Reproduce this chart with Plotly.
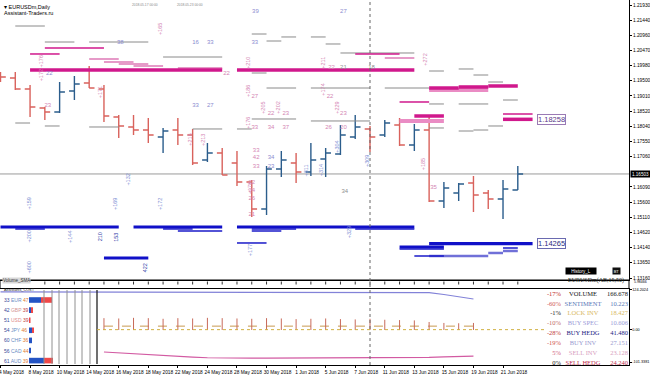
import plotly.graph_objects as go

# ---------------- data ----------------
days = list(range(36))  # trading days 4 May 2018 .. 22 Jun 2018
tick_days = [0, 2, 4, 6, 8, 10, 12, 14, 16, 18, 20, 22, 24, 26, 28, 30, 32, 34]
tick_dates = ["4 May 2018", "8 May 2018", "10 May 2018", "14 May 2018", "16 May 2018",
              "18 May 2018", "22 May 2018", "24 May 2018", "28 May 2018", "30 May 2018",
              "1 Jun 2018", "5 Jun 2018", "7 Jun 2018", "11 Jun 2018", "13 Jun 2018",
              "15 Jun 2018", "19 Jun 2018", "21 Jun 2018"]

bar_open = [1.19714, 1.19586, 1.19232, 1.18622, 1.18494, 1.19168, 1.19425, 1.19232, 1.18333, 1.18012,
            1.17915, 1.17691, 1.17915, 1.17755, 1.16952, 1.17177, 1.16855, 1.16245, 1.15378, 1.16663,
            1.16855, 1.16566, 1.16984, 1.17145, 1.17691, 1.17948, 1.17755, 1.18076, 1.17434, 1.17915,
            1.15635, 1.15892, 1.16213, 1.15892, 1.15699, 1.15988]
bar_high = [1.19778, 1.19778, 1.19361, 1.18654, 1.19457, 1.19650, 1.19971, 1.19361, 1.18397, 1.18397,
            1.18301, 1.17980, 1.18301, 1.17948, 1.17498, 1.17337, 1.17241, 1.16309, 1.16759, 1.17241,
            1.17177, 1.17498, 1.17337, 1.18076, 1.18397, 1.18044, 1.18237, 1.18301, 1.18108, 1.18397,
            1.16245, 1.16213, 1.16438, 1.15988, 1.16309, 1.16759]
bar_low = [1.19457, 1.19200, 1.18333, 1.18237, 1.18461, 1.18879, 1.19264, 1.18172, 1.17658, 1.17755,
           1.17498, 1.17177, 1.17434, 1.16791, 1.16887, 1.16470, 1.16117, 1.15121, 1.15185, 1.16406,
           1.16213, 1.16438, 1.16406, 1.17112, 1.17626, 1.17209, 1.17691, 1.17402, 1.17241, 1.15603,
           1.15410, 1.15635, 1.15282, 1.15378, 1.15057, 1.15988]
bar_close = [1.19618, 1.19232, 1.18654, 1.18494, 1.19136, 1.19393, 1.19264, 1.18365, 1.18044, 1.17915,
             1.17755, 1.17883, 1.17755, 1.16855, 1.17177, 1.16470, 1.16245, 1.15378, 1.16663, 1.16952,
             1.16566, 1.16952, 1.17177, 1.17755, 1.18012, 1.17691, 1.18140, 1.17434, 1.17915, 1.15635,
             1.16053, 1.16181, 1.15828, 1.15699, 1.16020, 1.16503]
current_price = 1.16503

price_ticks = [1.21930, 1.21440, 1.20960, 1.20470, 1.19980, 1.19500, 1.19010, 1.18520, 1.18040,
               1.17550, 1.17060, 1.16090, 1.15600, 1.15110, 1.14620, 1.14140, 1.13650, 1.13160]

# level segments: start day, end day, price
gray_start = [1, 3, 6, 11, 17, 18, 19, 21, 22, 23, 17, 18, 21, 26, 29, 31, 32, 33, 34, 29, 31,
              1, 3, 6, 13, 16, 17, 21, 29, 31, 32, 33]
gray_end = [3, 5, 10, 15, 18, 19, 20, 22, 23, 28, 18, 20, 25, 29, 30, 32, 33, 34, 35, 30, 33,
            2, 4, 8, 15, 17, 20, 25, 30, 32, 33, 34]
gray_level = [1.21256, 1.20742, 1.20742, 1.20260, 1.20999, 1.20774, 1.20903, 1.20903, 1.20678,
              1.20389, 1.19746, 1.19264, 1.19264, 1.19264, 1.19810, 1.19875, 1.19682, 1.19457,
              1.18879, 1.18751, 1.18751, 1.18140, 1.18044, 1.18012, 1.17948, 1.17948, 1.18269,
              1.18205, 1.17980, 1.17883, 1.17915, 1.18044]

mag_start = [3, 2, 24, 27, 34]
mag_end = [7, 4, 27, 29, 36]
mag_level = [1.20549, 1.20357, 1.20357, 1.18815, 1.18429]

magk_start = [2, 16, 29, 31, 33, 28, 34]
magk_end = [15, 28, 31, 33, 35, 30, 36]
magk_level = [1.19843, 1.19843, 1.19264, 1.19297, 1.19329, 1.18365, 1.18258]

pink_start = [6, 7, 8, 9, 12, 26]
pink_end = [8, 9, 10, 11, 15, 28]
pink_level = [1.20196, 1.20100, 1.20035, 1.19971, 1.19907, 1.20228]

pinkk_start = [29, 27]
pinkk_end = [33, 30]
pinkk_level = [1.19200, 1.18205]

bluek_start = [0, 9, 16, 7, 27, 29]
bluek_end = [8, 15, 28, 10, 30, 36]
bluek_level = [1.14800, 1.14800, 1.14800, 1.13804, 1.14157, 1.14265]

blue_start = [1, 11, 12, 17, 17, 24, 16, 27, 28, 34]
blue_end = [3, 13, 15, 20, 19, 28, 18, 30, 30, 35]
blue_level = [1.14736, 1.14736, 1.14671, 1.14736, 1.14671, 1.14736, 1.14286, 1.14093, 1.13868, 1.14125]

lblue_start = [29, 33, 34]
lblue_end = [33, 34, 35]
lblue_level = [1.13868, 1.13965, 1.14029]

# number labels on the price chart
lav_x = [8.1, 13.2, 14.2, 13.2, 14.2, 17.25, 23.2, 17.2, 3.3, 18.3, 18.3]
lav_y = [1.20742, 1.20742, 1.20742, 1.18718, 1.18718, 1.21706, 1.21706, 1.20742, 1.19746, 1.17016, 1.16727]
lav_t = ["38", "16", "33", "33", "27", "39", "27", "33", "22", "34", "23"]

pk_x = [3.2, 15.3, 22.4, 17.2, 22.3, 18.3, 19.3, 23.2, 17.2, 18.3, 19.3, 22.2, 23.2,
        17.3, 17.3, 17.3, 17.0, 17.0, 17.0, 17.0, 29.3]
pk_y = [1.18718, 1.19746, 1.19939, 1.18976, 1.18976, 1.18461, 1.18461, 1.18461, 1.17980, 1.17980,
        1.17980, 1.17980, 1.17980, 1.17241, 1.17048, 1.16727, 1.16245, 1.15956, 1.15699, 1.15217, 1.16053]
pk_t = ["23", "22", "22", "27", "22", "22", "23", "23", "33", "34", "37", "26", "20",
        "33", "42", "33", "22", "24", "26", "21", "35"]

gr_x = [23.2, 25.1, 23.3]
gr_y = [1.19939, 1.19939, 1.15924]
gr_t = ["21", "18", "34"]

pr_x = [2.75, 6.75, 10.8, 12.8, 13.7, 16.75, 21.8, 28.7, 21.8, 16.75, 17.75, 18.75, 22.75, 16.75, 28.6, 16.9]
pr_y = [1.19900, 1.19136, 1.21160, 1.17594, 1.17594, 1.20068, 1.20068, 1.20164, 1.19200, 1.19168,
        1.18622, 1.18622, 1.18622, 1.18140, 1.16823, 1.16053]
pr_t = ["+172 +176", "+171", "+165", "+215", "+213", "+210", "+211", "+272", "+174", "+186",
        "+205", "+202", "+229", "+176", "+185", "+178"]

br_x = [1.9, 7.75, 8.6, 10.8, 1.9, 4.7, 1.9, 16.9, 23.6, 20.7, 21.7, 22.75, 24.8]
br_y = [1.15539, 1.15539, 1.16309, 1.15539, 1.14479, 1.14479, 1.13483, 1.14061, 1.14639,
        1.16631, 1.16631, 1.17369, 1.16920]
br_t = ["+159", "+169", "+132", "+172", "+200", "+144", "+600", "+177", "+329", "+311", "+314", "+304", "+309"]

nr_x = [6.75, 7.8, 9.8]
nr_y = [1.14479, 1.14479, 1.13483]
nr_t = ["210", "153", "422"]

level_labels = ["1.18258", "1.14265"]
level_label_prices = [1.18258, 1.14265]

# lower panel (Assistants_COST)
vol_days = list(range(33))
vol_line = [118, 118, 118, 118, 118, 118, 118, 118, 118, 118, 118, 118, 118, 118, 118, 118, 118,
            118, 118, 118, 118, 118, 118, 118, 118, 118, 118, 118, 118, 116, 110, 103, 96]
ind_days = list(range(7, 33))
lock_line = [-70, -73, -76, -79, -82, -84, -86, -88, -89, -89, -89, -89, -89, -89, -89, -89, -89,
             -89, -89, -89, -89, -88, -87, -85, -84, -83]
sig_line = [11, 11, 11, 11, 11, 11, 11, 11, 11, 11, 11, 11, 11, 11, 11, 11, 11, 11, 11, 11, 11,
            11, 11, 11, 11, 11]
spike_hi = [36, 35, 37, 36, 34, 36, 35, 37, 36, 35, 34, 36, 35, 33, 34, 35, 33, 32, 34, 31, 30,
            29, 24, 21, 20, 21]
spike_lo = [-1] * 26

cur_left = [33, 42, 51, 54, 60, 56, 61]
cur_names = ["EUR", "GBP", "USD", "JPY", "CHF", "CAD", "AUD"]
cur_right = [47, 39, 39, 46, 36, 44, 39]
cur_buy = [12, 2, 0, 3, 3, 2, 15]
cur_sell = [11, 2, 1.5, 2, 0, 0, 9]

tbl_pct = ["-17%", "-60%", "-1%", "-10%", "-28%", "-19%", "5%", "0%"]
tbl_name = ["VOLUME", "SENTIMENT", "LOCK INV", "BUY SPEC", "BUY HEDG", "BUY INV", "SELL INV", "SELL HEDG"]
tbl_val = ["166.678", "10.223", "18.427", "10.606", "41.480", "27.151", "23.128", "24.240"]

# ---------------- layout helpers ----------------
W, H = 650, 375
PXD = 14.78                      # pixels per trading day
XR = [(0 - 0.5) / PXD, (629 - 0.5) / PXD]
Y2R = [-110.7, 127.3]


def px_x(px):
    return (px - 0.5) / PXD


def px_y2(py):
    return Y2R[1] - (py - 289) * (Y2R[1] - Y2R[0]) / 76.0


def pxp(px):
    return px / W


def pyp(py):
    return 1 - py / H


RED = "#d9625c"
BLUE = "#2b5d8c"
FONT = "Liberation Sans"

fig = go.Figure()


def add_segments(starts, ends, levels, color, width, opacity=1.0):
    xs, ys = [], []
    for a, b, v in zip(starts, ends, levels):
        xs += [a, b, None]
        ys += [v, v, None]
    fig.add_trace(go.Scatter(x=xs, y=ys, mode="lines", line=dict(color=color, width=width),
                             opacity=opacity, hoverinfo="skip", xaxis="x", yaxis="y"))


add_segments(gray_start, gray_end, gray_level, "#8a8a8a", 1)
add_segments(pink_start, pink_end, pink_level, "#e69ac8", 2)
add_segments(pinkk_start, pinkk_end, pinkk_level, "#ea8cc4", 4)
add_segments(mag_start, mag_end, mag_level, "#d0188c", 1.5)
add_segments(magk_start, magk_end, magk_level, "#d0188c", 3.5)
add_segments(lblue_start, lblue_end, lblue_level, "#7070d8", 2.5)
add_segments(blue_start, blue_end, blue_level, "#1a1ac8", 1.5)
add_segments(bluek_start, bluek_end, bluek_level, "#1010c8", 3.2)

fig.add_trace(go.Ohlc(x=days, open=bar_open, high=bar_high, low=bar_low, close=bar_close,
                      increasing=dict(line=dict(color=BLUE, width=1.4)),
                      decreasing=dict(line=dict(color=RED, width=1.4)),
                      tickwidth=0.36, hoverinfo="skip", xaxis="x", yaxis="y"))

for xs, ys, ts, col in [(lav_x, lav_y, lav_t, "#8c8cd0"), (pk_x, pk_y, pk_t, "#d486b4"),
                        (gr_x, gr_y, gr_t, "#909090")]:
    fig.add_trace(go.Scatter(x=xs, y=ys, text=ts, mode="text", cliponaxis=False,
                             textfont=dict(family=FONT, size=6, color=col),
                             hoverinfo="skip", xaxis="x", yaxis="y"))

annotations = []
for xs, ys, ts, col in [(pr_x, pr_y, pr_t, "#d486b4"), (br_x, br_y, br_t, "#8090d4"),
                        (nr_x, nr_y, nr_t, "#3040a8")]:
    for x, y, t in zip(xs, ys, ts):
        annotations.append(dict(x=x, y=y, xref="x", yref="y", text=t, textangle=-90,
                                showarrow=False, font=dict(family=FONT, size=5.5, color=col)))

for t, p, bc, fc in zip(level_labels, level_label_prices, ["#9a7ab4", "#6a6ab0"], ["#5a3a8a", "#2a2a80"]):
    annotations.append(dict(x=36.3, y=p, xref="x", yref="y", xanchor="left", text=t,
                            showarrow=False, bgcolor="white", bordercolor=bc, borderwidth=1,
                            borderpad=0, font=dict(family=FONT, size=7.5, color=fc)))

# current price box on the price axis
annotations.append(dict(x=pxp(630), y=current_price, xref="paper", yref="y", xanchor="left",
                        text=f"{current_price:.5f}", showarrow=False, bgcolor="#000",
                        borderpad=0, width=19, height=6,
                        font=dict(family=FONT, size=4.6, color="white")))

# headers
annotations += [
    dict(x=pxp(2), y=pyp(1.5), xref="paper", yref="paper", xanchor="left", yanchor="top",
         text="▾ EURUSDm,Daily", showarrow=False, font=dict(family=FONT, size=5.5, color="#000")),
    dict(x=pxp(2), y=pyp(8.5), xref="paper", yref="paper", xanchor="left", yanchor="top",
         text="Assistant-Traders.ru", showarrow=False, font=dict(family=FONT, size=5.5, color="#000")),
    dict(x=pxp(130), y=pyp(1), xref="paper", yref="paper", yanchor="top",
         text="2018.05.17 00:00", showarrow=False, font=dict(family=FONT, size=3.3, color="#888")),
    dict(x=pxp(175), y=pyp(1), xref="paper", yref="paper", yanchor="top",
         text="2018.05.23 00:00", showarrow=False, font=dict(family=FONT, size=3.3, color="#888")),
    dict(x=pxp(597), y=pyp(275), xref="paper", yref="paper", text="History_L", showarrow=False,
         bgcolor="#000", width=30, height=6, borderpad=0,
         font=dict(family=FONT, size=4.5, color="white")),
    dict(x=pxp(621), y=pyp(275), xref="paper", yref="paper", text="BT", showarrow=False,
         bgcolor="#111", width=7, height=6, borderpad=0,
         font=dict(family=FONT, size=4, color="white")),
    dict(x=pxp(1.5), y=pyp(284.3), xref="paper", yref="paper", xanchor="left",
         text="Volume_SMA", showarrow=False, bgcolor="#d8d8d8", borderpad=0,
         font=dict(family=FONT, size=4.5, color="#333")),
    dict(x=pxp(626), y=pyp(285.5), xref="paper", yref="paper", xanchor="right",
         text="EURUSDm(AB,15,50)", showarrow=False,
         font=dict(family="Liberation Serif", size=6, color="#222")),
    dict(x=pxp(632), y=pyp(286), xref="paper", yref="paper", xanchor="left",
         text="5.98466", showarrow=False, font=dict(family=FONT, size=3.5, color="#000")),
    dict(x=pxp(2), y=pyp(290.3), xref="paper", yref="paper", xanchor="left", yanchor="middle",
         text="Assistants_COST", showarrow=False, font=dict(family=FONT, size=3.8, color="#222")),
]

# currency strength table (left of lower panel)
name_cols = ["#6a8cc4", "#d49494", "#e08a8a", "#6a8cc4", "#6a8cc4", "#6a8cc4", "#6a8cc4"]
right_cols = ["#e07a30", "#c04040", "#c04040", "#e07a30", "#e07a30", "#e07a30", "#e07a30"]
shapes = []
for k, (l, n, r, b, s) in enumerate(zip(cur_left, cur_names, cur_right, cur_buy, cur_sell)):
    yc = 300 + k * 10.1
    annotations.append(dict(
        x=pxp(1.5), y=pyp(yc), xref="paper", yref="paper", xanchor="left", yanchor="middle",
        showarrow=False,
        text=(f'<span style="color:#3a4a9a">{l}</span> <span style="color:{name_cols[k]}">{n}</span>'
              f' <span style="color:{right_cols[k]}">{r}</span>'),
        font=dict(family=FONT, size=5)))
    if b > 0:
        shapes.append(dict(type="rect", xref="paper", yref="paper", x0=pxp(29), x1=pxp(29 + b),
                           y0=pyp(yc + 2.8), y1=pyp(yc - 2.8), fillcolor="#2454c4", line=dict(width=0)))
    if s > 0:
        shapes.append(dict(type="rect", xref="paper", yref="paper", x0=pxp(29 + b), x1=pxp(29 + b + s),
                           y0=pyp(yc + 2.8), y1=pyp(yc - 2.8), fillcolor="#f04848", line=dict(width=0)))

for vx in [44, 52, 59, 67, 75, 82, 90]:
    shapes.append(dict(type="line", xref="paper", yref="paper", x0=pxp(vx), x1=pxp(vx),
                       y0=pyp(364), y1=pyp(290), line=dict(color="#909090", width=1)))
shapes.append(dict(type="line", xref="paper", yref="paper", x0=pxp(97), x1=pxp(97),
                   y0=pyp(364), y1=pyp(290), line=dict(color="#222", width=1.3)))

# strip (small indicator window)
shapes.append(dict(type="rect", xref="paper", yref="paper", x0=0, x1=pxp(629), y0=pyp(288.5),
                   y1=pyp(280), line=dict(color="#000", width=1), fillcolor="white", layer="below"))
for d in days[3:]:
    shapes.append(dict(type="line", xref="x", yref="paper", x0=d, x1=d, y0=pyp(284.5), y1=pyp(281.5),
                       line=dict(color="#333", width=1)))

# current price line, dotted period separator, zero line of the lower panel
shapes.append(dict(type="line", xref="paper", yref="y", x0=0, x1=pxp(629), y0=current_price,
                   y1=current_price, line=dict(color="#9a9a9a", width=1), layer="below"))
shapes.append(dict(type="line", xref="x", yref="paper", x0=25, x1=25, y0=pyp(365), y1=1,
                   line=dict(color="#666", width=1, dash="dot")))
shapes.append(dict(type="line", xref="x2", yref="y2", x0=px_x(97), x1=px_x(545), y0=0, y1=0,
                   line=dict(color="#d0b040", width=1, dash="dot")))

# lower panel traces
fig.add_trace(go.Scatter(x=vol_days, y=vol_line, mode="lines", line=dict(color="#8282d8", width=1.2),
                         hoverinfo="skip", xaxis="x2", yaxis="y2"))
fig.add_trace(go.Scatter(x=ind_days, y=lock_line, mode="lines", line=dict(color="#d25aa2", width=1.2),
                         hoverinfo="skip", xaxis="x2", yaxis="y2"))
fig.add_trace(go.Scatter(x=ind_days, y=sig_line, mode="lines",
                         line=dict(color="#c89a50", width=1, dash="dash"),
                         hoverinfo="skip", xaxis="x2", yaxis="y2"))
sx, sy = [], []
for d, lo, hi in zip(ind_days, spike_lo, spike_hi):
    sx += [d, d, None]
    sy += [lo, hi, None]
fig.add_trace(go.Scatter(x=sx, y=sy, mode="lines", line=dict(color="#c86a5a", width=1),
                         hoverinfo="skip", xaxis="x2", yaxis="y2"))

row_y = [px_y2(294 + 9.9 * k) for k in range(len(tbl_name))]
pct_cols = ["#c02828", "#d05858", "#202020", "#c06868", "#c03838", "#d05050", "#d06080", "#202020"]
name_c = ["#111111", "#5a78b8", "#d8b860", "#9a9ad8", "#1a1a80", "#9a9ad0", "#d8a0c0", "#c03050"]
fig.add_trace(go.Scatter(x=[px_x(561)] * 8, y=row_y, text=tbl_pct, mode="text", textposition="middle left",
                         textfont=dict(family="Liberation Serif", size=6.5, color=pct_cols),
                         cliponaxis=True, hoverinfo="skip", xaxis="x2", yaxis="y2"))
fig.add_trace(go.Scatter(x=[px_x(583)] * 8, y=row_y, text=tbl_name, mode="text", textposition="middle center",
                         textfont=dict(family="Liberation Serif", size=6.5, color=name_c),
                         cliponaxis=True, hoverinfo="skip", xaxis="x2", yaxis="y2"))
fig.add_trace(go.Scatter(x=[px_x(628)] * 8, y=row_y, text=tbl_val, mode="text", textposition="middle left",
                         textfont=dict(family="Liberation Serif", size=6.5, color=name_c),
                         cliponaxis=True, hoverinfo="skip", xaxis="x2", yaxis="y2"))

axis_common = dict(showgrid=False, zeroline=False, showline=True, mirror=True, linecolor="#000",
                   linewidth=1, fixedrange=True, automargin=False)
fig.update_layout(
    template="none",
    width=W, height=H, margin=dict(l=0, r=0, t=0, b=0, pad=0, autoexpand=False),
    paper_bgcolor="white", plot_bgcolor="white", showlegend=False,
    xaxis=dict(domain=[0, pxp(629)], range=XR, anchor="y", showticklabels=False, ticks="",
               rangeslider=dict(visible=False), **axis_common),
    yaxis=dict(domain=[pyp(280), 1], range=[1.13097, 1.22091], anchor="x", side="right",
               tickvals=price_ticks, ticktext=[f"{v:.5f}" for v in price_ticks],
               ticks="outside", ticklen=2, tickcolor="#000",
               tickfont=dict(family=FONT, size=4.8, color="#000"), **axis_common),
    xaxis2=dict(domain=[0, pxp(629)], range=XR, anchor="y2", tickvals=tick_days, ticktext=tick_dates,
                ticks="outside", ticklen=2, tickcolor="#000", ticklabelshift=11, tickangle=0,
                ticklabeloverflow="allow",
                tickfont=dict(family=FONT, size=4.8, color="#000"), **axis_common),
    yaxis2=dict(domain=[pyp(365), pyp(289)], range=Y2R, anchor="x2", side="right",
                tickvals=[124.2, 0, -101.3], ticktext=["124.2024", "0.00", "-101.3381"],
                ticks="outside", ticklen=1.5, tickcolor="#000", ticklabeloverflow="allow",
                tickfont=dict(family=FONT, size=3.8, color="#000"), **axis_common),
    annotations=annotations,
    shapes=shapes,
)

fig.write_html("out.html", config={"displayModeBar": False})
